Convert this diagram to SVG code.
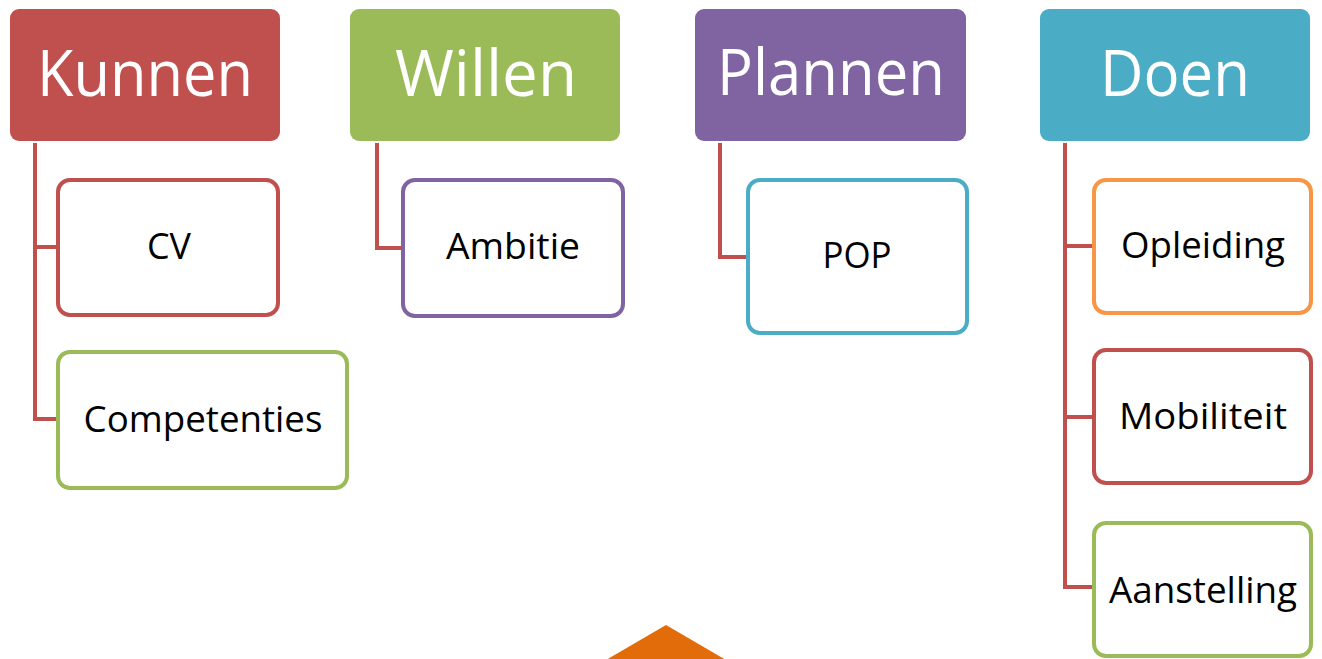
<svg xmlns="http://www.w3.org/2000/svg" width="1322" height="659" viewBox="0 0 1322 659">
<style>
.hd{stroke:none}
.ch{fill:#fff;stroke-width:4}
.ht{font-family:"Open Sans","Noto Sans",sans-serif;font-size:64px;fill:#fff;text-anchor:middle}
.ct{font-family:"Open Sans","Noto Sans",sans-serif;font-size:36px;fill:#000;text-anchor:middle}
.cn{fill:none;stroke:#C0504D;stroke-width:4}
</style>
<rect width="1322" height="659" fill="#fff"/>
<g id="connectors">
<path class="cn" d="M35 143V419H58M35 247H58"/>
<path class="cn" d="M377 143V248H403"/>
<path class="cn" d="M720 143V257H748"/>
<path class="cn" d="M1065 143V587H1094M1065 246H1094M1065 417H1094"/>
</g>
<g id="kunnen"><rect class="hd" x="10" y="9" width="270" height="132" rx="9" fill="#C0504D"/><text class="ht" x="145" y="96" textLength="216" lengthAdjust="spacingAndGlyphs">Kunnen</text></g>
<g id="willen"><rect class="hd" x="350" y="9" width="270" height="132" rx="9" fill="#9BBB59"/><text class="ht" x="486" y="96" textLength="182" lengthAdjust="spacingAndGlyphs">Willen</text></g>
<g id="plannen"><rect class="hd" x="695" y="9" width="271" height="132" rx="9" fill="#8064A2"/><text class="ht" x="831" y="95" textLength="228" lengthAdjust="spacingAndGlyphs">Plannen</text></g>
<g id="doen"><rect class="hd" x="1040" y="9" width="270" height="132" rx="9" fill="#4BACC6"/><text class="ht" x="1175" y="96" textLength="150" lengthAdjust="spacingAndGlyphs">Doen</text></g>
<g id="cv"><rect class="ch" x="58" y="180" width="220" height="135" rx="12" stroke="#C0504D"/><text class="ct" x="169" y="259" textLength="44" lengthAdjust="spacingAndGlyphs">CV</text></g>
<g id="competenties"><rect class="ch" x="58" y="352" width="289" height="136" rx="12" stroke="#9BBB59"/><text class="ct" x="203" y="432" textLength="239" lengthAdjust="spacingAndGlyphs">Competenties</text></g>
<g id="ambitie"><rect class="ch" x="403" y="180" width="220" height="136" rx="12" stroke="#8064A2"/><text class="ct" x="513" y="259" textLength="134" lengthAdjust="spacingAndGlyphs">Ambitie</text></g>
<g id="pop"><rect class="ch" x="748" y="180" width="219" height="153" rx="12" stroke="#4BACC6"/><text class="ct" x="857" y="268" textLength="69" lengthAdjust="spacingAndGlyphs">POP</text></g>
<g id="opleiding"><rect class="ch" x="1094" y="180" width="217" height="133" rx="12" stroke="#F79646"/><text class="ct" x="1203" y="258" textLength="164" lengthAdjust="spacingAndGlyphs">Opleiding</text></g>
<g id="mobiliteit"><rect class="ch" x="1094" y="350" width="217" height="133" rx="12" stroke="#C0504D"/><text class="ct" x="1203" y="429" textLength="168" lengthAdjust="spacingAndGlyphs">Mobiliteit</text></g>
<g id="aanstelling"><rect class="ch" x="1094" y="523" width="217" height="133" rx="12" stroke="#9BBB59"/><text class="ct" x="1203" y="603" textLength="188" lengthAdjust="spacingAndGlyphs">Aanstelling</text></g>
<polygon id="arrow" points="666,625 726,660 606,660" fill="#E36C0A"/>
</svg>
